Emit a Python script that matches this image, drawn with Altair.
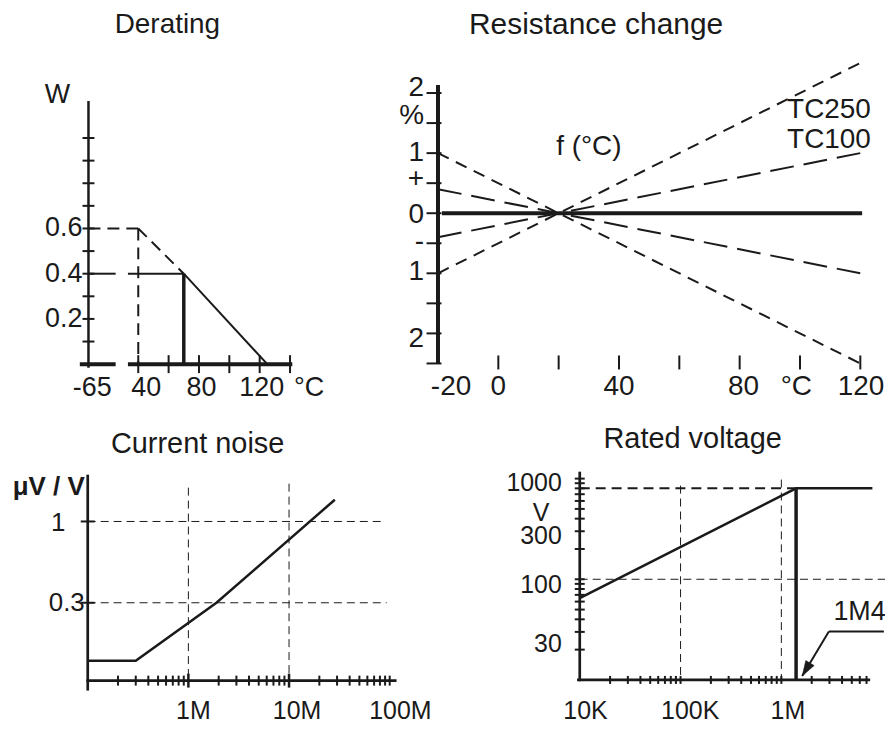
import altair as alt
import pandas as pd

INK = "#1a1a1a"
FONT = "Liberation Sans"

# ===================== Derating (W vs degC) =====================
DER_X0 = 7.2                                   # broken-axis origin (labelled -65)
der_break = [25.1, 33.2]                       # gap in the temperature axis
der_curve_temp = [70, 125]                     # solid derating line
der_curve_power = [0.4, 0.0]
der_ext_temp = [40, 70]                        # dashed extension (0.6 W rating)
der_ext_power = [0.6, 0.4]
der_y_ticks = [0.1, 0.2, 0.3, 0.4, 0.5, 0.6, 0.7, 0.8, 0.9, 1.0]
der_x_ticks = [40, 60, 80, 100, 120, 140]
der_y_labels = ["0.6", "0.4", "0.2"]
der_y_label_vals = [0.6, 0.4, 0.2]
der_x_labels = ["-65", "40", "80", "120", "°C"]
der_x_label_pos = [9.7, 45.3, 81.6, 121.3, 152.5]

# ===================== Resistance change (% vs degC) =====================
rc_t_start = -20
rc_t_end = 120
rc_tc250 = [1.0, -2.5]        # % at -20 and 120 degC (upper/lower mirrored)
rc_tc100 = [0.4, -1.0]
rc_y_ticks = [2, 1.5, 1, 0.5, 0, -0.5, -1, -1.5, -2, -2.5]
rc_x_ticks = [0, 20, 40, 60, 80, 100, 120]
rc_y_labels = ["2", "%", "1", "+", "0", "-", "1", "2"]
rc_y_label_pos = [2.091, 1.610, 0.997, 0.567, -0.03, -0.474, -0.977, -2.088]
rc_x_labels = ["-20", "0", "40", "80", "°C", "120"]
rc_x_label_pos = [-15.69, 0, 39.97, 81.27, 98.78, 120.25]

# ===================== Current noise (uV/V vs ohm) =====================
cn_r = [1e5, 3e5, 1.9e6, 2.85e7]
cn_v = [0.127, 0.127, 0.3, 1.38]
cn_minor = [m * d for d in (1e5, 1e6, 1e7) for m in range(2, 10)] + [1e8]
cn_major = [1e6, 1e7]
cn_y_ticks = [1, 0.3]
cn_x_labels = ["1M", "10M", "100M"]
cn_x_label_pos = [1.121e6, 1.2e7, 1.276e8]

# ===================== Rated voltage (V vs ohm) =====================
rv_r = [1e4, 1.4e6, 8e6]
rv_v = [65, 800, 800]
rv_crit_r = 1.4e6
rv_max_v = 800
rv_x_ticks = [m * d for d in (1e4, 1e5) for m in range(2, 11)] + [m * 1e6 for m in range(2, 8)]
rv_y_ticks = [m * d for d in (10, 100) for m in range(2, 11)]
rv_y_labels = ["1000", "300", "100", "30"]
rv_y_label_pos = [906, 269, 88, 22.9]
rv_x_labels = ["10K", "100K", "1M"]
rv_x_label_pos = [1.14e4, 1.246e5, 1.16e6]


# ---------------------------------------------------------------------------
def _xy(xs, ys):
    return dict(x=alt.X("x:Q", scale=xs, axis=None), y=alt.Y("y:Q", scale=ys, axis=None))


def seg_layer(rows, xs, ys, width=2.0, dash=None):
    df = pd.DataFrame(rows, columns=["x", "y", "x2", "y2"])
    mk = dict(color=INK, strokeWidth=width)
    if dash:
        mk["strokeDash"] = dash
    return alt.Chart(df).mark_rule(**mk).encode(x2="x2:Q", y2="y2:Q", **_xy(xs, ys))


def line_layer(xv, yv, xs, ys, width=2.5):
    df = pd.DataFrame({"x": xv, "y": yv, "i": list(range(len(xv)))})
    return alt.Chart(df).mark_line(color=INK, strokeWidth=width, strokeJoin="miter").encode(
        order="i:Q", **_xy(xs, ys))


def tick_layer(xv, yv, xs, ys, orient, size, thickness=2.0, offset=0):
    n = max(len(xv) if isinstance(xv, list) else 1, len(yv) if isinstance(yv, list) else 1)
    xv = xv if isinstance(xv, list) else [xv] * n
    yv = yv if isinstance(yv, list) else [yv] * n
    df = pd.DataFrame({"x": xv, "y": yv})
    mk = dict(color=INK, orient=orient, size=size, thickness=thickness, opacity=1)
    if offset:
        mk["xOffset" if orient == "horizontal" else "yOffset"] = offset
    return alt.Chart(df).mark_tick(**mk).encode(**_xy(xs, ys))


def text_layer(labels, xv, yv, xs, ys, size=27, align="center", dx=0, weight="normal"):
    n = len(labels)
    xv = xv if isinstance(xv, list) else [xv] * n
    yv = yv if isinstance(yv, list) else [yv] * n
    df = pd.DataFrame({"x": xv, "y": yv, "t": labels})
    return alt.Chart(df).mark_text(
        font=FONT, fontSize=size, color=INK, align=align, baseline="middle", dx=dx,
        fontWeight=weight).encode(text="t:N", **_xy(xs, ys))


W_CHART, H_CHART = 880, 713   # one shared drawing area; each panel has its own scales

# ---------------------------- Derating ----------------------------
dxs = alt.Scale(domain=[-45.82, 531.99], nice=False, zero=False)
dys = alt.Scale(domain=[-1.5727, 1.5696], nice=False, zero=False)
derating = alt.layer(
    seg_layer([(DER_X0, -0.016, DER_X0, 1.164)], dxs, dys, width=2.5),
    seg_layer([(1.5, 0, der_break[0], 0), (der_break[1], 0, 141.5, 0)], dxs, dys, width=4),
    tick_layer(DER_X0, der_y_ticks, dxs, dys, "horizontal", 12, 2),
    tick_layer(der_x_ticks, 0, dxs, dys, "vertical", 18, 2),
    seg_layer([(DER_X0, der_ext_power[0], der_ext_temp[0], der_ext_power[0]),
               (der_ext_temp[0], der_ext_power[0], der_ext_temp[0], 0),
               (der_ext_temp[0], der_ext_power[0], der_ext_temp[1], der_ext_power[1])],
              dxs, dys, width=2, dash=[12, 7]),
    seg_layer([(DER_X0, der_curve_power[0], der_break[0], der_curve_power[0]),
               (der_break[1], der_curve_power[0], der_curve_temp[0], der_curve_power[0]),
               (der_curve_temp[0], der_curve_power[0], der_curve_temp[1], der_curve_power[1])],
              dxs, dys, width=2),
    seg_layer([(der_curve_temp[0], 0, der_curve_temp[0], der_curve_power[0])], dxs, dys, width=3.5),
    text_layer(der_y_labels, DER_X0, der_y_label_vals, dxs, dys, align="right", dx=-6),
    text_layer(der_x_labels, der_x_label_pos, -0.1057, dxs, dys),
    text_layer(["W"], -13.3, 1.188, dxs, dys, size=27),
    text_layer(["Derating"], 59.2, 1.50, dxs, dys, size=28),
)

# ------------------------- Resistance change -------------------------
rxs = alt.Scale(domain=[-162.54, 128.18], nice=False, zero=False)
rys = alt.Scale(domain=[-8.4295, 3.3947], nice=False, zero=False)
resist = alt.layer(
    seg_layer([(rc_t_start, -2.5, rc_t_start, 2.134)], rxs, rys, width=4),
    tick_layer(rc_t_start, rc_y_ticks, rxs, rys, "horizontal", 15, 2, offset=-4),
    tick_layer(rc_x_ticks, -2.5, rxs, rys, "vertical", 14, 2, offset=-1),
    seg_layer([(rc_t_start, rc_tc250[0], rc_t_end, rc_tc250[1]),
               (rc_t_start, -rc_tc250[0], rc_t_end, -rc_tc250[1])],
              rxs, rys, width=2, dash=[12, 8]),
    seg_layer([(rc_t_start, rc_tc100[0], rc_t_end, rc_tc100[1]),
               (rc_t_start, -rc_tc100[0], rc_t_end, -rc_tc100[1])],
              rxs, rys, width=2, dash=[24, 10]),
    seg_layer([(-18.7, 0, 120.6, 0)], rxs, rys, width=4),
    text_layer(rc_y_labels, rc_t_start, rc_y_label_pos, rxs, rys, size=28, align="right", dx=-14),
    text_layer(rc_x_labels, rc_x_label_pos, -2.9, rxs, rys, size=28),
    text_layer(["TC250", "TC100"], 109.6, [1.718, 1.212], rxs, rys, size=28),
    text_layer(["f (°C)"], 30.0, 1.096, rxs, rys, size=28),
    text_layer(["Resistance change"], 32.4, 3.135, rxs, rys, size=30),
)

# ---------------------------- Current noise ----------------------------
cxs = alt.Scale(type="log", domain=[10 ** 4.2079, 10 ** 12.9208], nice=False)
cys = alt.Scale(type="log", domain=[10 ** -1.2756, 10 ** 3.2949], nice=False)
CN_AX = 0.0947
noise = alt.layer(
    seg_layer([(1e5, 0.0817, 1e5, 2.0), (9.7e4, CN_AX, 1.17e8, CN_AX)], cxs, cys, width=2.7),
    tick_layer(cn_minor, CN_AX, cxs, cys, "vertical", 10, 2),
    tick_layer(cn_major, CN_AX, cxs, cys, "vertical", 14, 2.5),
    tick_layer(1e5, cn_y_ticks, cxs, cys, "horizontal", 14, 2),
    seg_layer([(1e5, 1, 8.34e7, 1), (1e5, 0.3, 9.33e7, 0.3),
               (1e6, 1.65, 1e6, CN_AX), (1e7, 1.75, 1e7, CN_AX)],
              cxs, cys, width=1, dash=[8, 5]),
    line_layer(cn_r, cn_v, cxs, cys, width=2.5),
    text_layer(["μV / V"], 1e5, 1.66, cxs, cys, size=26, align="right", dx=-3, weight="bold"),
    text_layer(["1"], 5.08e4, 0.981, cxs, cys, size=26),
    text_layer(["0.3"], 1e5, 0.301, cxs, cys, size=26, align="right", dx=-3),
    text_layer(cn_x_labels, cn_x_label_pos, 0.060, cxs, cys, size=25),
    text_layer(["Current noise"], 1.236e6, 3.135, cxs, cys, size=29),
)

# ---------------------------- Rated voltage ----------------------------
vxs = alt.Scale(type="log", domain=[10 ** -1.6718, 10 ** 7.0282], nice=False)
vys = alt.Scale(type="log", domain=[10 ** 0.6040, 10 ** 7.6634], nice=False)
rated = alt.layer(
    seg_layer([(1e4, 9.7, 1e4, 1172), (9.4e3, 10, 7.6e6, 10)], vxs, vys, width=2.7),
    tick_layer(rv_x_ticks, 10, vxs, vys, "vertical", 8, 2),
    tick_layer(1e4, rv_y_ticks, vxs, vys, "horizontal", 10, 2),
    seg_layer([(1e4, 100, 1.067e7, 100), (1e5, 852, 1e5, 10), (1e6, 978, 1e6, 10)],
              vxs, vys, width=1, dash=[8, 5]),
    seg_layer([(1e4, rv_max_v, rv_crit_r, rv_max_v)], vxs, vys, width=2, dash=[10, 6]),
    line_layer(rv_r, rv_v, vxs, vys, width=2.5),
    seg_layer([(rv_crit_r, 10, rv_crit_r, rv_max_v)], vxs, vys, width=3.5),
    seg_layer([(1.04e7, 30.3, 2.96e6, 30.3), (2.96e6, 30.3, 1.61e6, 10.96)], vxs, vys, width=2),
    alt.Chart(pd.DataFrame({"x": [1.76e6], "y": [12.7]})).mark_point(
        shape="M0,-1L0.65,1L-0.65,1Z", size=225, angle=211, filled=True, fill=INK,
        stroke=INK, strokeWidth=0.5, opacity=1).encode(**_xy(vxs, vys)),
    text_layer(rv_y_labels, 1e4, rv_y_label_pos, vxs, vys, size=25, align="right", dx=-18),
    text_layer(["V"], 4140, 457, vxs, vys, size=25),
    text_layer(rv_x_labels, rv_x_label_pos, 4.865, vxs, vys, size=25),
    text_layer(["1M4"], 5.97e6, 46.9, vxs, vys, size=27),
    text_layer(["Rated voltage"], 1.318e5, 2484, vxs, vys, size=29),
)

chart = alt.layer(derating, resist, noise, rated).resolve_scale(
    x="independent", y="independent"
).properties(
    width=W_CHART, height=H_CHART, padding=0, background="white",
    autosize=alt.AutoSizeParams(type="none"),
).configure_view(stroke=None)

chart.save("out.html", embed_options={"renderer": "svg", "actions": False})
